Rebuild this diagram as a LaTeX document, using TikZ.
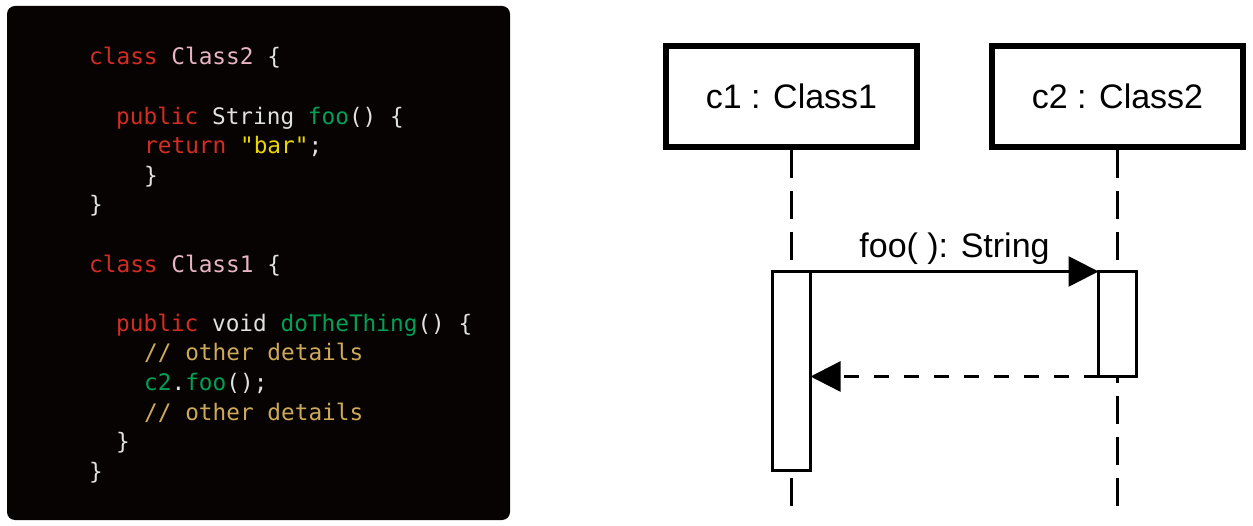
\documentclass[tikz,border=0pt]{standalone}
\usepackage{fontspec}
\setmainfont{Liberation Sans}
\setmonofont{DejaVu Sans Mono}
\usetikzlibrary{arrows.meta}
\definecolor{panelbg}{RGB}{7,3,2}
\definecolor{plain}{RGB}{225,225,225}
\definecolor{kwred}{RGB}{210,45,35}
\definecolor{clspink}{RGB}{230,180,195}
\definecolor{fngreen}{RGB}{0,160,85}
\definecolor{stryellow}{RGB}{235,215,0}
\definecolor{cmtgold}{RGB}{205,170,90}
\newcommand{\kw}[1]{\textcolor{kwred}{#1}}
\newcommand{\cls}[1]{\textcolor{clspink}{#1}}
\newcommand{\fn}[1]{\textcolor{fngreen}{#1}}
\newcommand{\strlit}[1]{\textcolor{stryellow}{#1}}
\newcommand{\cmt}[1]{\textcolor{cmtgold}{#1}}
\begin{document}
\begin{tikzpicture}[x=1pt,y=-1pt,
  panel/.style={fill=panelbg, rounded corners=8pt, minimum width=503pt, minimum height=514pt, inner sep=0pt, outer sep=0pt},
  codeline/.style={anchor=base west, inner sep=0pt, text=plain, font=\ttfamily\fontsize{22.75}{27}\selectfont},
  objbox/.style={draw, line width=5.5pt, minimum width=251pt, minimum height=101pt, inner sep=0pt, font=\fontsize{34}{40}\selectfont},
  actbox/.style={draw, fill=white, line width=2.5pt, outer sep=0pt, inner sep=0pt, minimum width=38pt},
  lifeline/.style={line width=3pt, dash pattern=on 28pt off 13pt},
  msg/.style={line width=2.5pt, -{Triangle[length=30pt,width=30pt]}},
  retmsg/.style={msg, dash pattern=on 15pt off 15pt},
  msglabel/.style={anchor=base, inner sep=0pt, yshift=13.5pt, font=\fontsize{34}{40}\selectfont}
]
\useasboundingbox (0,0) rectangle (1253,526);
% code panel
\node[panel] (code) at (258.5,263) {};
\node[codeline] (l1)  at (89,65)    {\kw{class} \cls{Class2} \{};
\node[codeline] (l3)  at (116,124.2) {\kw{public} String \fn{foo}() \{};
\node[codeline] (l4)  at (144,153.8) {\kw{return} \strlit{"bar"};};
\node[codeline] (l5)  at (144,183.4) {\}};
\node[codeline] (l6)  at (89,213)   {\}};
\node[codeline] (l8)  at (89,272.2) {\kw{class} \cls{Class1} \{};
\node[codeline] (l10) at (116,331.4) {\kw{public} void \fn{doTheThing}() \{};
\node[codeline] (l11) at (144,361)  {\cmt{// other details}};
\node[codeline] (l12) at (144,390.6) {\fn{c2}.\fn{foo}();};
\node[codeline] (l13) at (144,420.2) {\cmt{// other details}};
\node[codeline] (l14) at (116,449.8) {\}};
\node[codeline] (l15) at (89,479.4) {\}};
% sequence diagram
\node[objbox] (c1) at (791.5,96.5) {c1 : Class1};
\node[objbox] (c2) at (1117.5,96.5) {c2 : Class2};
\coordinate (e1) at (791.5,508);
\coordinate (e2) at (1117.5,508);
\draw[lifeline] (c1.south) -- (e1);
\draw[lifeline] (c2.south) -- (e2);
\node[actbox, minimum height=199pt] (a1) at (791.5,371) {};
\node[actbox, minimum height=105pt] (a2) at (1117.5,324) {};
\draw[msg] (a1.north east) -- node[msglabel] {foo( ): String} (a2.north west);
\draw[retmsg] (a2.south west) -- (a2.south west -| a1.east);
\end{tikzpicture}
\end{document}
